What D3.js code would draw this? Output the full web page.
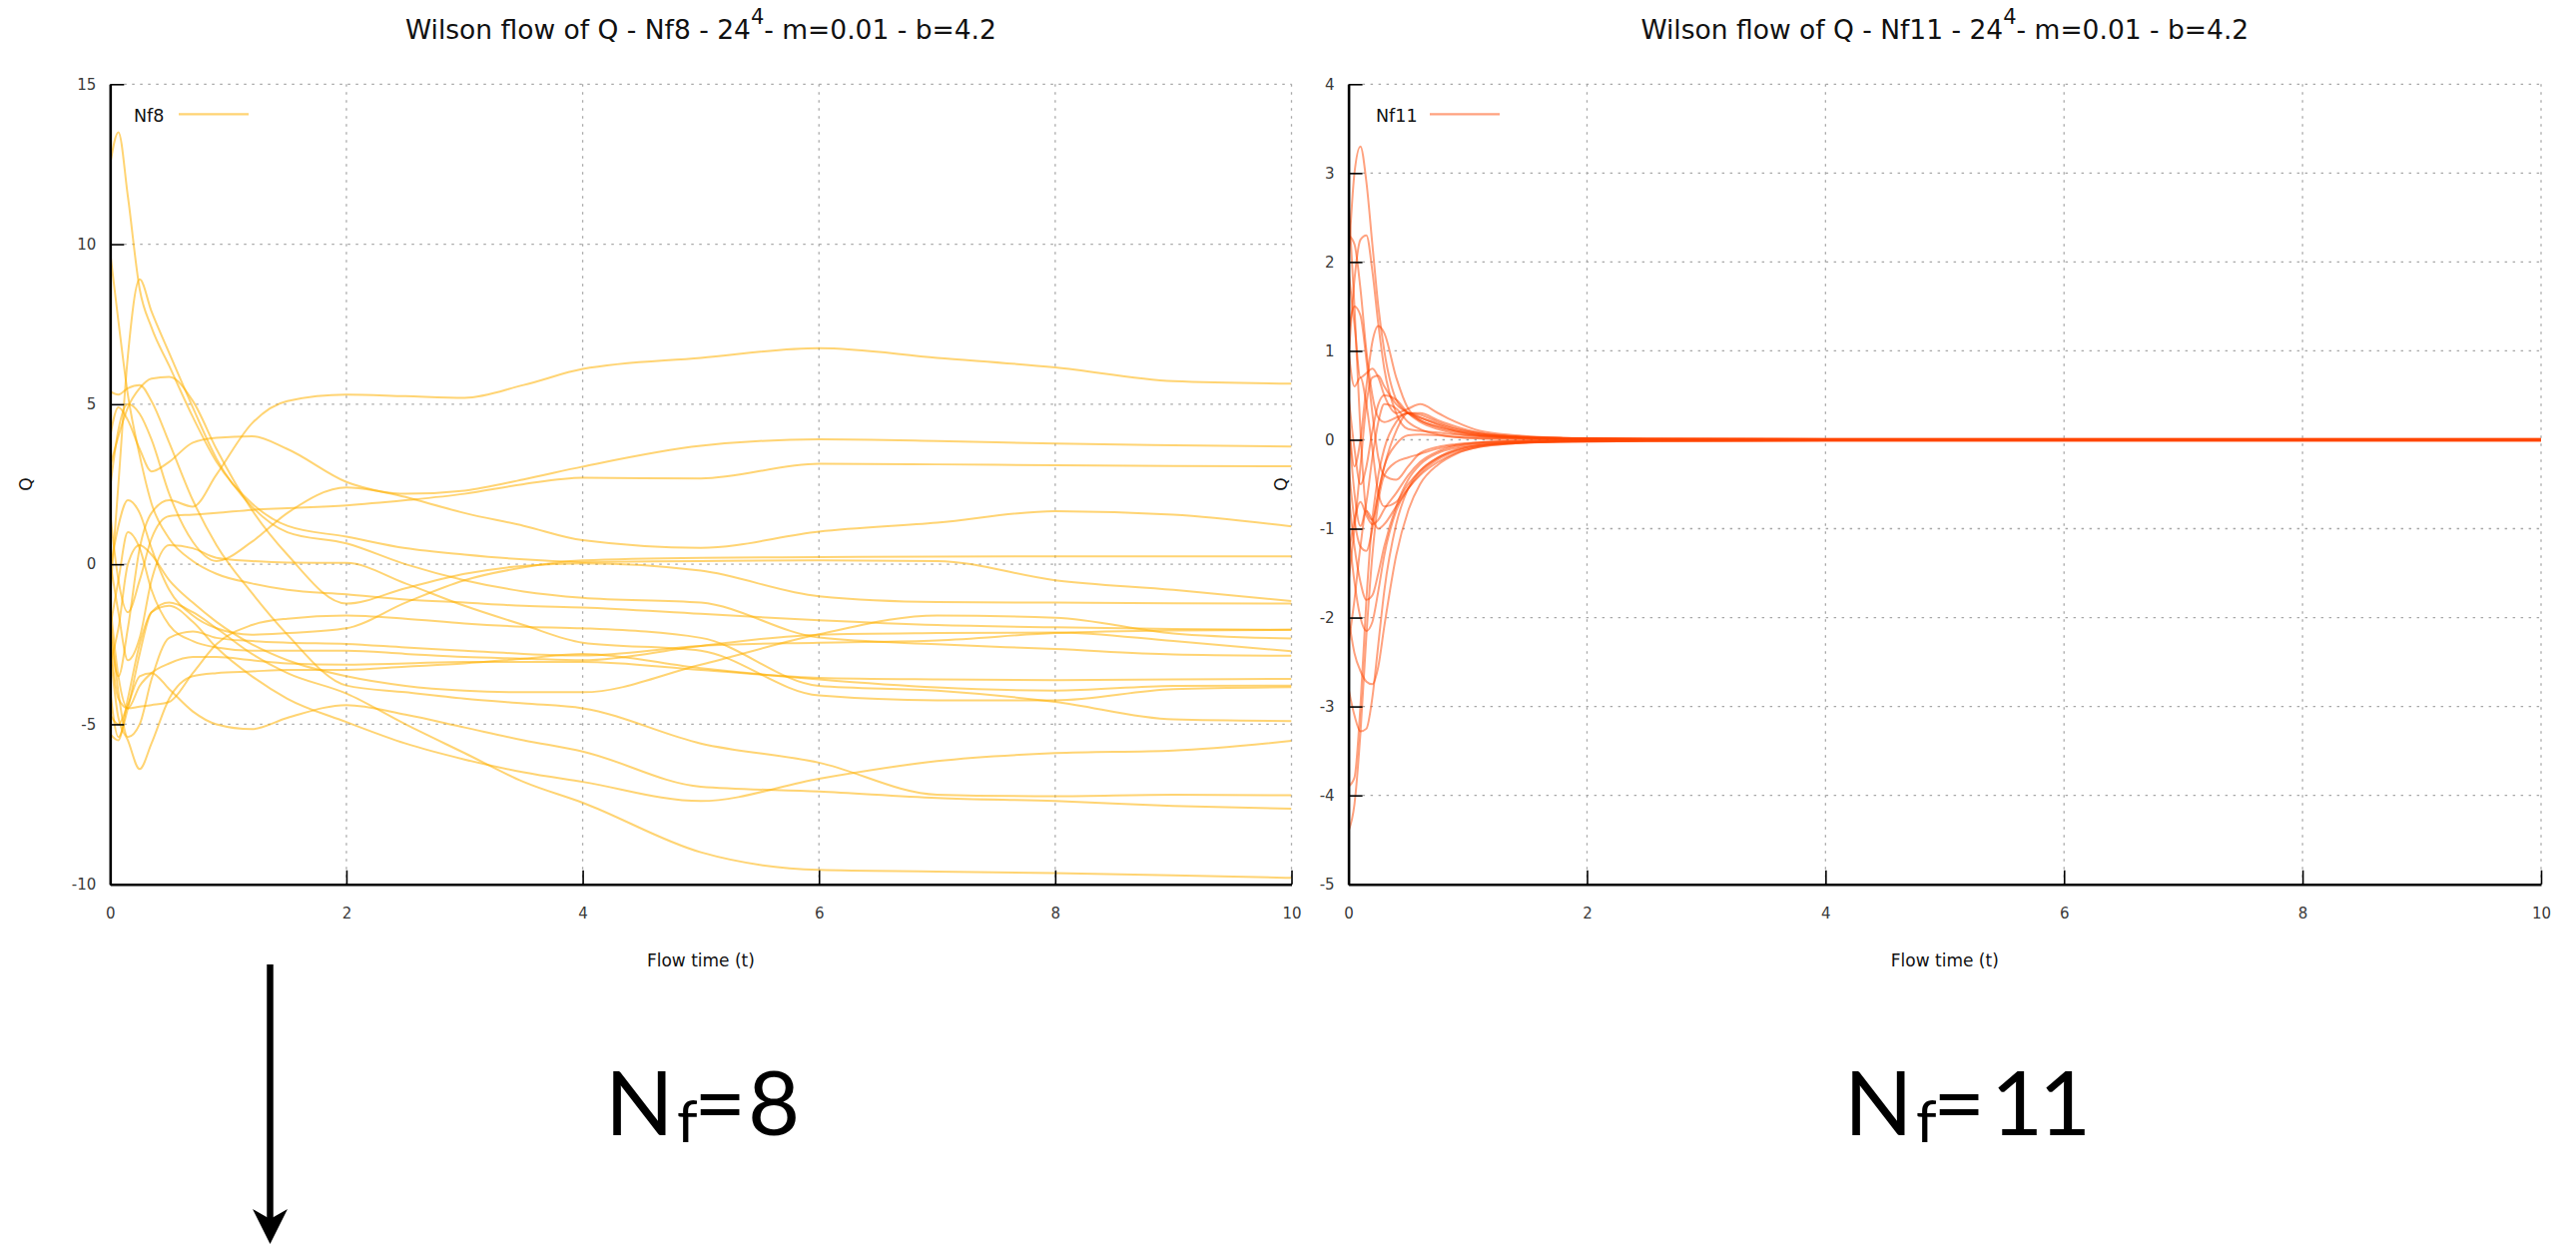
<!DOCTYPE html>
<html><head><meta charset="utf-8">
<script src="https://cdn.jsdelivr.net/npm/d3@7"></script>
<style>body{margin:0;background:#fff;} svg{display:block;}</style>
</head><body>
<svg id="chart" width="2580" height="1246"></svg>
<script>
// ---------- data ----------
const flowTimeNf8 = [0, 0.07, 0.15, 0.25, 0.35, 0.5, 0.7, 0.9, 1.2, 1.5, 2, 2.5, 3, 3.5, 4, 5, 6, 7, 8, 9, 10];
const qNf8 = [
  [-2.0, -3.5, -2.0, 0.5, 1.6, 2.0, 1.8, 2.8, 4.4, 5.1, 5.3, 5.25, 5.2, 5.6, 6.1, 6.45, 6.75, 6.45, 6.15, 5.72, 5.64],
  [12.5, 13.5, 11.5, 8.6, 7.4, 6.2, 4.6, 3.2, 1.9, 1.2, 0.86, 0.5, 0.3, 0.15, 0.07, 0.1, 0.12, 0.1, -0.5, -0.8, -1.15],
  [9.75, 7.6, 5.3, 3.4, 1.9, 0.8, 0.1, -0.3, -0.6, -0.8, -0.94, -1.1, -1.2, -1.3, -1.35, -1.55, -1.75, -1.9, -1.97, -2.02, -2.05],
  [-1.0, 2.5, 6.5, 8.9, 7.9, 6.6, 4.9, 3.3, 1.8, 1.0, 0.65, 0.0, -0.5, -0.85, -1.05, -1.2, -2.29, -2.5, -2.65, -2.82, -2.86],
  [5.4, 5.3, 5.5, 5.6, 5.1, 3.8, 2.0, 0.6, -0.9, -2.2, -3.79, -4.0, -4.2, -4.35, -4.5, -5.6, -6.2, -7.2, -7.25, -7.2, -7.22],
  [3.05, 4.0, 4.9, 5.5, 5.8, 5.85, 5.1, 3.6, 1.7, 0.3, -1.23, -0.75, -0.3, -0.05, 0.03, -0.2, -1.0, -1.18, -1.2, -1.22, -1.23],
  [4.0, 4.9, 4.5, 3.6, 2.9, 3.2, 3.8, 3.95, 4.0, 3.6, 2.57, 2.1, 1.6, 1.2, 0.75, 0.51, 1.02, 1.3, 1.66, 1.55, 1.18],
  [2.4, 4.2, 5.0, 4.7, 3.9, 2.2, 0.7, 0.1, 0.7, 1.6, 2.4, 2.2, 2.3, 2.65, 3.05, 3.7, 3.9, 3.85, 3.77, 3.72, 3.68],
  [1.6, -0.5, -1.5, -0.5, 0.8, 1.5, 1.55, 1.6, 1.7, 1.75, 1.84, 2.0, 2.2, 2.5, 2.7, 2.68, 3.14, 3.12, 3.09, 3.07, 3.06],
  [0.1, -1.5, -3.0, -2.3, -0.5, 0.6, 0.5, 0.2, 0.1, 0.05, 0.04, -0.6, -1.3, -1.9, -2.45, -2.7, -4.1, -4.25, -4.25, -3.9, -3.84],
  [-0.2, 1.2, 2.0, 1.6, 0.5, -0.8, -1.6, -2.0, -2.2, -2.15, -2.0, -1.2, -0.5, -0.1, 0.12, 0.2, 0.22, 0.24, 0.25, 0.25, 0.25],
  [-1.2, -3.5, -4.5, -4.45, -4.4, -4.3, -3.4, -2.5, -1.9, -1.7, -1.6, -1.7, -1.85, -1.95, -2.0, -2.3, -3.8, -3.95, -4.3, -4.85, -4.9],
  [-1.6, -4.0, -5.4, -5.0, -3.6, -2.3, -2.1, -2.3, -2.4, -2.45, -2.49, -2.6, -2.7, -2.8, -2.85, -2.55, -2.45, -2.38, -2.15, -2.07, -2.05],
  [-2.0, -0.5, 1.0, 0.5, -0.8, -1.9, -2.4, -2.6, -2.7, -2.7, -2.7, -2.8, -2.9, -2.95, -3.0, -2.55, -2.2, -2.15, -2.13, -2.4, -2.72],
  [-2.4, -4.2, -4.5, -3.8, -3.4, -3.1, -2.9, -2.9, -3.0, -3.1, -3.14, -3.1, -3.05, -3.05, -3.05, -3.3, -3.55, -3.6, -3.62, -3.6, -3.58],
  [-2.65, -4.8, -5.5, -6.4, -5.6, -4.2, -3.5, -3.4, -3.35, -3.3, -3.3, -3.2, -3.1, -2.95, -2.8, -3.25, -3.6, -3.85, -3.95, -3.8, -3.79],
  [-3.1, -2.0, 0.0, 0.6, 0.3, -0.5, -1.2, -1.8, -2.5, -3.0, -3.5, -3.8, -3.95, -4.0, -4.0, -3.14, -2.19, -1.6, -1.67, -2.16, -2.32],
  [-3.95, -5.4, -4.5, -2.8, -1.5, -1.2, -1.5, -2.0, -2.8, -3.4, -4.04, -5.0, -5.9, -6.8, -7.45, -9.0, -9.55, -9.6, -9.65, -9.72, -9.8],
  [-4.7, -5.0, -4.4, -3.5, -3.4, -3.9, -4.6, -5.0, -5.15, -4.8, -4.4, -4.7, -5.1, -5.5, -5.85, -6.95, -7.1, -7.3, -7.4, -7.55, -7.64],
  [-5.3, -5.5, -4.2, -2.5, -1.5, -1.3, -1.8, -2.6, -3.5, -4.2, -4.93, -5.6, -6.1, -6.5, -6.8, -7.4, -6.7, -6.15, -5.9, -5.82, -5.52]
];

const flowTimeNf11 = [0, 0.05, 0.1, 0.15, 0.2, 0.25, 0.3, 0.4, 0.5, 0.6, 0.75, 0.9, 1.1, 1.4, 1.8, 2.5, 4, 6, 8, 10];
const qNf11 = [
  [2.0, 3.0, 3.3, 2.9, 2.2, 1.5, 1.0, 0.45, 0.3, 0.22, 0.14, 0.09, 0.05, 0.03, 0.02, 0.014, 0.012, 0.012, 0.012, 0.012],
  [0.9, 1.8, 2.25, 2.3, 1.9, 1.3, 0.8, 0.3, 0.12, 0.1, 0.08, 0.06, 0.04, 0.025, 0.015, 0.01, 0.008, 0.008, 0.008, 0.008],
  [2.3, 2.2, 1.7, 1.0, 0.5, 0.25, 0.2, 0.25, 0.3, 0.28, 0.2, 0.13, 0.07, 0.035, 0.018, 0.01, 0.006, 0.006, 0.006, 0.006],
  [2.7, 1.5, 0.1, -0.8, -0.9, -0.6, -0.3, 0.1, 0.3, 0.3, 0.22, 0.15, 0.08, 0.04, 0.02, 0.008, 0.004, 0.004, 0.004, 0.004],
  [0.3, -0.3, 0.0, 0.6, 1.1, 1.28, 1.2, 0.7, 0.35, 0.22, 0.15, 0.1, 0.06, 0.03, 0.015, 0.006, 0.002, 0.002, 0.002, 0.002],
  [1.9, 1.3, 0.7, 0.75, 0.8, 0.7, 0.5, 0.3, 0.35, 0.4, 0.3, 0.2, 0.1, 0.05, 0.02, 0.006, 0.0, 0.0, 0.0, 0.0],
  [1.2, 1.5, 1.4, 0.9, 0.3, -0.2, -0.4, -0.45, -0.3, -0.15, -0.08, -0.05, -0.03, -0.015, -0.008, -0.004, -0.002, -0.002, -0.002, -0.002],
  [0.5, -0.1, -0.5, -0.3, 0.1, 0.4, 0.5, 0.45, 0.3, 0.2, 0.12, 0.07, 0.04, 0.02, 0.01, 0.004, 0.001, 0.001, 0.001, 0.001],
  [0.2, -0.6, -0.97, -0.7, -0.2, 0.2, 0.4, 0.35, 0.2, 0.12, 0.06, 0.03, 0.015, 0.008, 0.003, 0.0, -0.002, -0.002, -0.002, -0.002],
  [-0.3, -0.9, -1.2, -1.25, -1.0, -0.6, -0.3, -0.05, 0.05, 0.06, 0.05, 0.03, 0.02, 0.01, 0.004, 0.0, -0.004, -0.004, -0.004, -0.004],
  [-0.6, -1.2, -1.6, -1.8, -1.75, -1.5, -1.2, -0.75, -0.45, -0.28, -0.15, -0.09, -0.05, -0.03, -0.018, -0.01, -0.006, -0.006, -0.006, -0.006],
  [-1.0, -1.6, -2.0, -2.15, -2.05, -1.7, -1.3, -0.8, -0.55, -0.38, -0.22, -0.13, -0.07, -0.035, -0.02, -0.012, -0.008, -0.008, -0.008, -0.008],
  [-2.0, -2.4, -2.6, -2.72, -2.75, -2.55, -2.1, -1.3, -0.8, -0.5, -0.28, -0.16, -0.08, -0.04, -0.022, -0.014, -0.01, -0.01, -0.01, -0.01],
  [-2.8, -3.1, -3.28, -3.25, -2.9, -2.3, -1.7, -0.95, -0.55, -0.35, -0.2, -0.12, -0.06, -0.035, -0.022, -0.015, -0.012, -0.012, -0.012, -0.012],
  [-4.4, -4.1, -3.3, -2.2, -1.3, -0.7, -0.4, -0.25, -0.2, -0.16, -0.1, -0.06, -0.03, -0.015, -0.008, -0.004, -0.003, -0.003, -0.003, -0.003],
  [-3.9, -3.8, -3.0, -1.8, -0.9, -0.4, -0.1, 0.2, 0.3, 0.25, 0.17, 0.1, 0.05, 0.025, 0.012, 0.006, 0.003, 0.003, 0.003, 0.003],
  [-1.6, -1.0, -0.3, 0.4, 0.7, 0.72, 0.6, 0.4, 0.3, 0.25, 0.18, 0.12, 0.07, 0.035, 0.016, 0.008, 0.005, 0.005, 0.005, 0.005],
  [-1.3, -0.9, -0.7, -0.85, -0.95, -0.9, -0.78, -0.6, -0.4, -0.25, -0.13, -0.07, -0.035, -0.018, -0.01, -0.005, -0.003, -0.003, -0.003, -0.003],
  [-2.3, -1.8, -1.2, -0.8, -0.9, -1.0, -0.95, -0.75, -0.55, -0.4, -0.25, -0.15, -0.08, -0.04, -0.02, -0.01, -0.007, -0.007, -0.007, -0.007],
  [1.0, 0.6, 0.7, 0.4, -0.1, -0.6, -0.75, -0.7, -0.5, -0.35, -0.2, -0.11, -0.06, -0.03, -0.015, -0.008, -0.005, -0.005, -0.005, -0.005]
];

const xTickValues = [0, 2, 4, 6, 8, 10];
const yTicksNf8 = [-10, -5, 0, 5, 10, 15];
const yTicksNf11 = [-5, -4, -3, -2, -1, 0, 1, 2, 3, 4];
const seriesNames = ["Nf8", "Nf11"];
const flavourNumbers = ["8", "11"];

// ---------- drawing ----------
const svg = d3.select("#chart");
svg.append("rect").attr("width", 2580).attr("height", 1246).attr("fill", "#fff");
const FONT = "DejaVu Sans";

function panel(cfg) {
  const x = d3.scaleLinear().domain([0, 10]).range([cfg.x0, cfg.x1]);
  const y = d3.scaleLinear().domain(cfg.yDomain).range([885.7, 84.3]);
  const g = svg.append("g");
  const clipId = "clip" + cfg.name;
  svg.append("clipPath").attr("id", clipId).append("rect")
    .attr("x", cfg.x0).attr("y", 84.3).attr("width", cfg.x1 - cfg.x0).attr("height", 885.7 - 84.3);

  // grid
  const grid = g.append("g").attr("stroke", "#a8a8a8").attr("stroke-width", 1.3)
    .attr("stroke-dasharray", "2.5,5.5").attr("fill", "none");
  grid.selectAll(".gx").data(xTickValues.filter(d => d > 0)).join("line")
    .attr("x1", d => x(d)).attr("x2", d => x(d)).attr("y1", y.range()[1]).attr("y2", y.range()[0]);
  grid.selectAll(".gy").data(cfg.yTicks).join("line")
    .attr("x1", cfg.x0 + 14).attr("x2", cfg.x1).attr("y1", d => y(d)).attr("y2", d => y(d));

  // curves
  const line = d3.line().x((d, i) => x(cfg.t[i])).y(d => y(d)).curve(d3.curveMonotoneX);
  g.append("g").attr("clip-path", `url(#${clipId})`)
    .selectAll("path").data(cfg.series).join("path")
    .attr("d", line).attr("fill", "none")
    .attr("stroke", cfg.color).attr("stroke-opacity", cfg.opacity).attr("stroke-width", 2);

  // axes
  const xAxis = d3.axisBottom(x).tickValues(xTickValues).tickSize(-14).tickSizeOuter(0)
    .tickPadding(24).tickFormat(d => String(d));
  const yAxis = d3.axisLeft(y).tickValues(cfg.yTicks).tickSize(-14).tickSizeOuter(0)
    .tickPadding(14).tickFormat(d => String(d));
  const ax = g.append("g").attr("transform", `translate(0,885.7)`).call(xAxis);
  const ay = g.append("g").attr("transform", `translate(${cfg.x0},0)`).call(yAxis);
  [ax, ay].forEach(a => {
    a.select(".domain").attr("stroke", "#000").attr("stroke-width", 2.6);
    a.selectAll(".tick line").attr("stroke", "#000").attr("stroke-width", 1.6);
    a.selectAll(".tick text").attr("font-family", FONT).attr("font-size", 15).attr("fill", "#3a3a3a");
  });

  // axis labels
  const cx = (cfg.x0 + cfg.x1) / 2;
  g.append("text").attr("x", cx).attr("y", 968).attr("text-anchor", "middle")
    .attr("font-family", FONT).attr("font-size", 17).attr("fill", "#111").text("Flow time (t)");
  g.append("text").attr("transform", `translate(${cfg.qx},485) rotate(-90)`).attr("text-anchor", "middle")
    .attr("font-family", FONT).attr("font-size", 17).attr("fill", "#111").text("Q");

  // title
  const title = g.append("text").attr("x", cx).attr("y", 39).attr("text-anchor", "middle")
    .attr("font-family", FONT).attr("font-size", 26.5).attr("fill", "#111");
  title.append("tspan").text(`Wilson flow of Q - ${cfg.name} - 24`);
  title.append("tspan").attr("dy", -15).attr("font-size", 21).text("4");
  title.append("tspan").attr("dy", 15).text("- m=0.01 - b=4.2");

  // legend
  g.append("text").attr("x", cfg.legX).attr("y", 122).attr("font-family", FONT)
    .attr("font-size", 17.5).attr("fill", "#111").text(cfg.name);
  g.append("line").attr("x1", cfg.legL1).attr("x2", cfg.legL1 + 70).attr("y1", 114.3).attr("y2", 114.3)
    .attr("stroke", cfg.color).attr("stroke-opacity", cfg.opacity).attr("stroke-width", 2.2);
}

panel({name: seriesNames[0], x0: 110.3, x1: 1293.5, yDomain: [-10, 15], yTicks: yTicksNf8,
  t: flowTimeNf8, series: qNf8, color: "#ffb000", opacity: 0.55, qx: 31.5, legX: 134, legL1: 179});
panel({name: seriesNames[1], x0: 1350.6, x1: 2545, yDomain: [-5, 4], yTicks: yTicksNf11,
  t: flowTimeNf11, series: qNf11, color: "#ff4500", opacity: 0.5, qx: 1289, legX: 1378, legL1: 1432});

// big labels
function bigLabel(xN, xf, xEq, digitXs, digits) {
  const t = svg.append("text").attr("font-family", "Lato").attr("font-size", 90).attr("fill", "#000");
  t.append("tspan").attr("x", xN).attr("y", 1136.7).text("N");
  t.append("tspan").attr("x", xf).attr("y", 1144).attr("font-size", 59).text("f");
  t.append("tspan").attr("x", xEq).attr("y", 1136.7).text("=");
  digits.split("").forEach((c, i) => t.append("tspan").attr("x", digitXs[i]).attr("y", 1136.7).text(c));
}
bigLabel(606, 678, 695, [749], flavourNumbers[0]);
bigLabel(1847, 1919, 1936, [1994, 2042], flavourNumbers[1]);

// arrow
svg.append("line").attr("x1", 270.5).attr("x2", 270.5).attr("y1", 966).attr("y2", 1224)
  .attr("stroke", "#000").attr("stroke-width", 6.5);
svg.append("path").attr("d", "M270.5,1246 L253,1211 L270.5,1221 L288,1211 Z").attr("fill", "#000");
</script>
</body></html>
